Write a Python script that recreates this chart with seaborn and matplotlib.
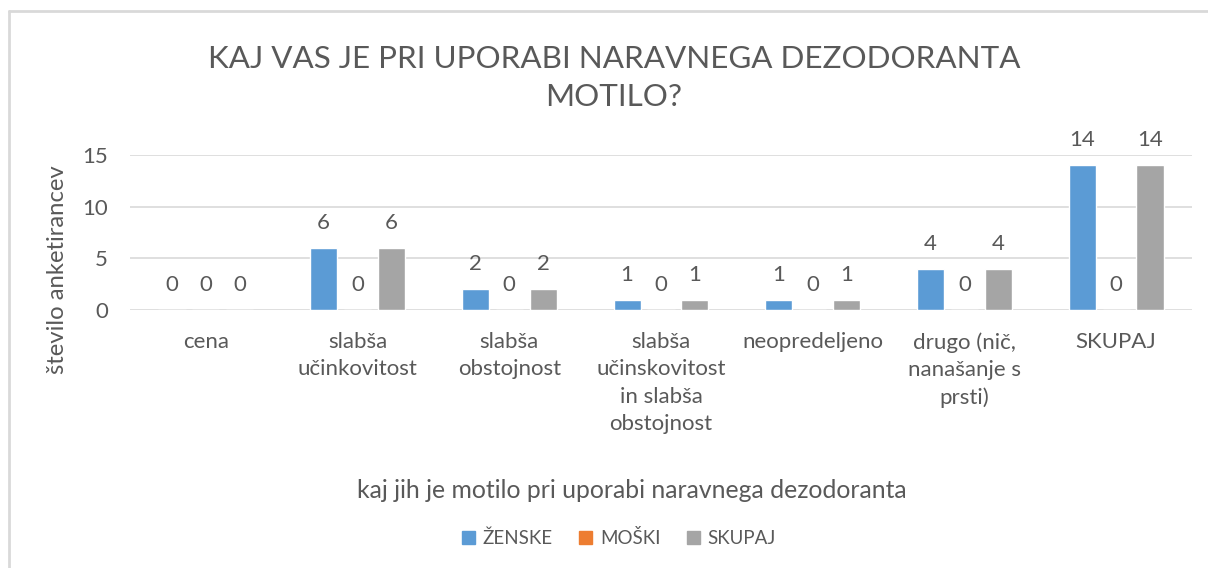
import pandas as pd
import matplotlib.pyplot as plt
import seaborn as sns
from matplotlib.lines import Line2D

# Survey data: what bothered respondents when using natural deodorant
categories = ["cena", "slabša\nučinkovitost", "slabša\nobstojnost",
              "slabša\nučinskovitost\nin slabša\nobstojnost", "neopredeljeno",
              "drugo (nič,\nnanašanje s\nprsti)", "SKUPAJ"]
zenske = [0, 6, 2, 1, 1, 4, 14]
moski = [0, 0, 0, 0, 0, 0, 0]
skupaj = [0, 6, 2, 1, 1, 4, 14]
series_names = ["ŽENSKE", "MOŠKI", "SKUPAJ"]
colors = ["#5B9BD5", "#ED7D31", "#A5A5A5"]

TEXT = "#595959"
GRID = "#D9D9D9"

# Long format for seaborn
rows = []
for name, vals in zip(series_names, [zenske, moski, skupaj]):
    for cat, v in zip(categories, vals):
        rows.append({"kategorija": cat, "spol": name, "stevilo": v})
df = pd.DataFrame(rows)

sns.set_theme(style="white")
plt.rcParams["font.family"] = ["Lato", "DejaVu Sans"]

fig = plt.figure(figsize=(12.08, 5.68), dpi=100)
ax = fig.add_axes([130 / 1208, 1 - 310 / 568, (1192 - 130) / 1208, (310 - 155) / 568])

sns.barplot(data=df, x="kategorija", y="stevilo", hue="spol", order=categories,
            hue_order=series_names, palette=colors, width=0.67, gap=0.2,
            saturation=1, ax=ax, legend=False)

ax.set_ylim(0, 15)
ax.set_xlim(-0.5, len(categories) - 0.5)
ax.set_yticks([0, 5, 10, 15])
ax.yaxis.grid(True, color=GRID, linewidth=1.2)
ax.set_axisbelow(True)
for s in ax.spines.values():
    s.set_visible(False)
ax.tick_params(axis="y", length=0, pad=16, labelsize=16, labelcolor=TEXT)
ax.tick_params(axis="x", length=0, pad=16, labelsize=16, labelcolor=TEXT)
for lbl in ax.get_xticklabels():
    lbl.set_linespacing(1.45)
    lbl.set_verticalalignment("top")
ax.set_xlabel("")
ax.set_ylabel("")

# data labels above each bar
for cont, vals in zip(ax.containers, [zenske, moski, skupaj]):
    for patch, v in zip(cont.patches, vals):
        ax.annotate(str(v), (patch.get_x() + patch.get_width() / 2, v),
                    xytext=(0, 18), textcoords="offset points",
                    ha="center", va="center", fontsize=16, color=TEXT)

fig.text(614 / 1208, 1 - 78 / 568, "KAJ VAS JE PRI UPORABI NARAVNEGA DEZODORANTA\nMOTILO?",
         ha="center", va="center", fontsize=22.6, color=TEXT, linespacing=1.4)
fig.text(58 / 1208, 1 - 270 / 568, "število anketirancev", rotation=90,
         ha="center", va="center", fontsize=17.2, color=TEXT)
fig.text(632 / 1208, 1 - 490 / 568, "kaj jih je motilo pri uporabi naravnega dezodoranta",
         ha="center", va="center", fontsize=17.8, color=TEXT)

handles = [plt.Rectangle((0, 0), 1, 1, color=c) for c in colors]
fig.legend(handles, series_names, loc="center", bbox_to_anchor=(619 / 1208, 1 - 538 / 568),
           ncol=3, frameon=False, handlelength=0.7, handleheight=0.7,
           handletextpad=0.4, columnspacing=1.4, fontsize=13.5, labelcolor=TEXT)

# chart area border (only top and left edges visible)
fig.add_artist(Line2D([9 / 1208, 1], [1 - 11 / 568, 1 - 11 / 568], color=GRID, linewidth=2))
fig.add_artist(Line2D([9 / 1208, 9 / 1208], [0, 1 - 11 / 568], color=GRID, linewidth=2))

fig.savefig("out.png", dpi=100)
